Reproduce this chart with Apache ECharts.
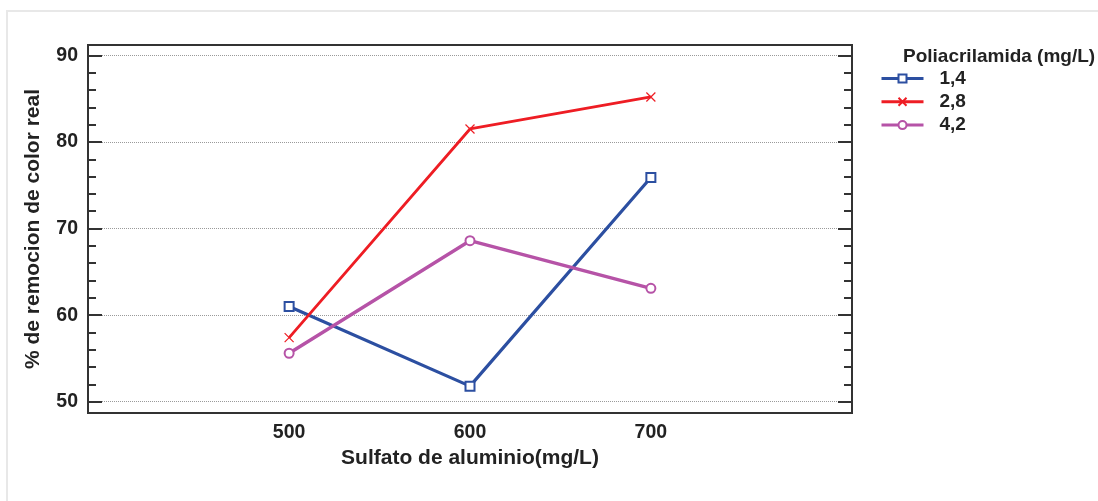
<!DOCTYPE html>
<html><head><meta charset="utf-8">
<script src="https://cdn.jsdelivr.net/npm/echarts@6/dist/echarts.min.js"></script>
<style>
html,body{margin:0;padding:0;background:#fff;overflow:hidden;}
#frame{position:absolute;left:6px;top:10px;width:1200px;height:600px;border:2px solid #e8e8e8;box-sizing:border-box;}
#c{position:absolute;left:0;top:0;width:1098px;height:501px;}
</style></head>
<body><div id="frame"></div><div id="c"></div>
<script>
const categories = [500, 600, 700];
const seriesNames = ['1,4', '2,8', '4,2'];
const s14 = [61.0, 51.8, 75.9];
const s28 = [57.4, 81.5, 85.2];
const s42 = [55.6, 68.6, 63.1];
const yMajor = [50, 60, 70, 80, 90];
const yMinor = [52, 54, 56, 58, 62, 64, 66, 68, 72, 74, 76, 78, 82, 84, 86, 88];
const xLabels = [500, 600, 700];

const FONT = '"Liberation Sans", Arial, sans-serif';
const xMin = 388.8, xMax = 811.2, yMin = 48.7, yMax = 91.2;
const colors = ['#2c4fa1', '#ee1d24', '#b653a7'];
const widths = [3.2, 2.8, 3.4];
const symbols = ['emptyRect', 'path://M0,0L10,10M10,0L0,10', 'emptyCircle'];
const datas = [s14, s28, s42];

function pairs(v){ return categories.map((c,i)=>[c, v[i]]); }

function yAx(pos, ticks, len, labels, split){
  return {
    type:'value', position:pos, min:yMin, max:yMax,
    axisLine:{show:true, lineStyle:{color:'#333', width:2}},
    axisTick:{show:true, inside:true, length:len, customValues:ticks, lineStyle:{color:'#333', width:2}},
    axisLabel:{show:labels, customValues:ticks, fontFamily:FONT, fontWeight:'bold', fontSize:19.5, color:'#222', margin:10},
    splitLine:{show:split, lineStyle:{color:'#9a9a9a', type:'dotted', width:1}},
    name: labels ? '% de remocion de color real' : '',
    nameLocation:'middle', nameGap:44,
    nameTextStyle:{fontFamily:FONT, fontWeight:'bold', fontSize:21, color:'#222'}
  };
}

const chart = echarts.init(document.getElementById('c'));
chart.setOption({
  backgroundColor:'transparent',
  animation:false,
  title:{text:'Poliacrilamida (mg/L)', left:898, top:42,
    textStyle:{fontFamily:FONT, fontWeight:'bold', fontSize:19, color:'#222'}},
  legend:{
    orient:'vertical', left:875, top:64, itemWidth:42, itemHeight:10, itemGap:4.3,
    data:seriesNames,
    lineStyle:{width:3},
    textStyle:{fontFamily:FONT, fontWeight:'bold', fontSize:19, color:'#222', padding:[0,0,0,11]}
  },
  grid:{left:88, top:45, right:246, bottom:88, show:true, borderColor:'#333', borderWidth:2, backgroundColor:'transparent'},
  xAxis:{
    type:'value', min:xMin, max:xMax,
    axisLine:{show:true, lineStyle:{color:'#333', width:2}},
    axisTick:{show:false},
    axisLabel:{customValues:xLabels, fontFamily:FONT, fontWeight:'bold', fontSize:19.5, color:'#222', margin:10},
    splitLine:{show:false},
    name:'Sulfato de aluminio(mg/L)', nameLocation:'middle', nameGap:32,
    nameTextStyle:{fontFamily:FONT, fontWeight:'bold', fontSize:21, color:'#222'}
  },
  yAxis:[
    yAx('left', yMajor, 14, true, true),
    yAx('left', yMinor, 8, false, false),
    yAx('right', yMajor, 14, false, false),
    yAx('right', yMinor, 8, false, false)
  ],
  series: seriesNames.map((n,i)=>({
    name:n, type:'line', data:pairs(datas[i]),
    symbol:symbols[i], symbolSize:9,
    lineStyle:{color:colors[i], width:widths[i]},
    itemStyle:{color:colors[i], borderColor:colors[i], borderWidth:1.2},
    z:3
  }))
});
</script></body></html>
